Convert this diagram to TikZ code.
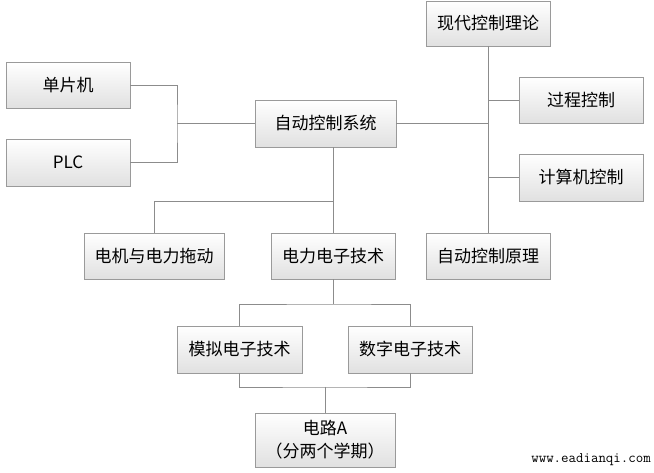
\documentclass[tikz,border=0pt]{standalone}
\usepackage{fontspec}
\setmainfont{Noto Sans CJK SC}
\usetikzlibrary{shadows}
\definecolor{linegray}{HTML}{8C8C8C}
\definecolor{boxline}{HTML}{9A9A9A}
\tikzset{
  course/.style={draw=boxline, line width=0.8pt, top color=white, bottom color=black!12,
    minimum height=46pt, inner sep=0pt, font=\fontsize{17}{20}\selectfont,
    drop shadow={opacity=0.25, shadow xshift=1pt, shadow yshift=-1pt}},
  conn/.style={draw=linegray, line width=0.9pt}
}
\begin{document}
\begin{tikzpicture}[x=1pt,y=-1pt]
\useasboundingbox (0,0) rectangle (654,473);
\node[course, minimum width=124pt, minimum height=45pt] (modern) at (488,23.5) {现代控制理论};
\node[course, minimum width=124pt] (mcu) at (68,85) {单片机};
\node[course, minimum width=124pt, minimum height=47pt] (plc) at (68,162.5) {PLC};
\node[course, minimum width=141pt, minimum height=47pt] (acs) at (325.5,123.5) {自动控制系统};
\node[course, minimum width=124pt] (proc) at (581,100) {过程控制};
\node[course, minimum width=124pt, minimum height=47pt] (comp) at (581,177.5) {计算机控制};
\node[course, minimum width=140pt] (motor) at (154,256) {电机与电力拖动};
\node[course, minimum width=124pt] (power) at (333,256) {电力电子技术};
\node[course, minimum width=124pt] (acp) at (488,256) {自动控制原理};
\node[course, minimum width=125pt, minimum height=47pt] (analog) at (239.5,349.5) {模拟电子技术};
\node[course, minimum width=124pt, minimum height=47pt] (digital) at (410,349.5) {数字电子技术};
\node[course, minimum width=140pt, minimum height=54pt, align=center, font=\fontsize{17}{23}\selectfont] (circ) at (325,440) {电路A\\（分两个学期）};
\node[anchor=east, inner sep=0pt, font=\ttfamily\fontsize{14.5}{16}\selectfont] (wm) at (651,460) {www.eadianqi.com};
% junctions
\coordinate (jl) at (177,123.5);
\coordinate (jr) at (488,123.5);
\coordinate (jd) at (333,201);
\coordinate (jp) at (333,304);
\coordinate (jc) at (325,387);
% left bracket
\draw[conn] (mcu.east) -| (jl) |- (plc.east);
\draw[conn] (jl) -- (acs.west);
% right spine
\draw[conn] (modern.south) -- (acp.north);
\draw[conn] (acs.east) -- (jr);
\draw[conn] (proc.west) -- (proc.west -| modern.south);
\draw[conn] (comp.west) -- (comp.west -| modern.south);
% down from acs
\draw[conn] (acs.south -| jd) -- (power.north);
\draw[conn] (motor.north) |- (jd);
% power to analog/digital
\draw[conn] (power.south) -- (jp);
\draw[conn] (analog.north) |- (jp) -| (digital.north);
% analog/digital to circuit
\draw[conn] (analog.south) |- (jc) -| (digital.south);
\draw[conn] (jc) -- (circ.north);
\end{tikzpicture}
\end{document}
